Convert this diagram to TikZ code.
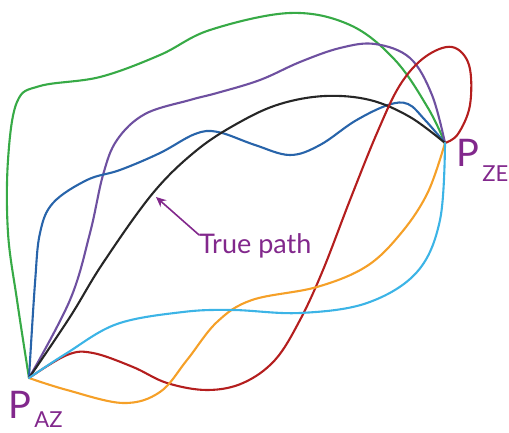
\documentclass[tikz,border=0pt]{standalone}
\usepackage{fontspec}
\setmainfont{Lato}
\usetikzlibrary{arrows.meta}
\definecolor{cgreen}{RGB}{55,170,70}
\definecolor{cviolet}{RGB}{110,80,160}
\definecolor{cblue}{RGB}{40,100,170}
\definecolor{cred}{RGB}{180,30,30}
\definecolor{corange}{RGB}{245,160,40}
\definecolor{ccyan}{RGB}{60,180,230}
\definecolor{clabel}{RGB}{130,40,140}
\begin{document}
\begin{tikzpicture}[x=1pt, y=-1pt, line join=round, line cap=round, >=stealth,
	path/.style={line width=2.1pt, smooth, tension=0.6}]
	\useasboundingbox (0,0) rectangle (509,433);
	\coordinate (az) at (29,378);
	\coordinate (ze) at (445,143);
	% the paths
	\draw[path, cgreen] plot coordinates {(az) (17,300) (8,233) (8,160) (17,102) (40,86) (100,77) (160,55) (210,30) (290,13) (350,25) (395,60) (428,108) (ze)};
	\draw[path, cviolet] plot coordinates {(az) (70,300) (90,233) (103,175) (117,140) (145,114) (190,100) (217,93) (260,80) (300,62) (340,48) (375,44) (410,58) (432,95) (ze)};
	\draw[path, cblue] plot coordinates {(az) (35,283) (40,233) (53,203) (87,180) (120,170) (160,153) (195,134) (218,132) (255,145) (290,155) (320,145) (355,121) (388,105) (408,104) (425,120) (ze)};
	\draw[path, black!85] plot coordinates {(az) (70,317) (103,263) (153,193) (197,150) (240,122) (280,104) (325,96) (370,100) (410,117) (ze)};
	\draw[path, cred] plot coordinates {(az) (67,355) (93,353) (133,367) (167,383) (207,390) (243,383) (275,360) (300,320) (323,270) (350,200) (377,133) (400,85) (425,57) (452,47) (469,65) (470,105) (458,134) (ze)};
	\draw[path, corange] plot coordinates {(az) (67,390) (123,403) (160,392) (187,360) (217,322) (252,300) (317,287) (367,266) (402,232) (428,192) (ze)};
	\draw[path, ccyan] plot coordinates {(az) (67,353) (117,324) (183,312) (233,310) (300,313) (367,303) (417,272) (440,220) (ze)};
	% labels
	\node[clabel, font=\fontsize{38}{40}\selectfont, inner sep=0pt, anchor=base west] (paz) at (8,418) {P};
	\node[clabel, font=\fontsize{22}{24}\selectfont, inner sep=0pt, anchor=base west] (pazsub) at ([xshift=3pt, yshift=-9]paz.base east) {AZ};
	\node[clabel, font=\fontsize{38}{40}\selectfont, inner sep=0pt, anchor=base west] (pze) at (456,167) {P};
	\node[clabel, font=\fontsize{22}{24}\selectfont, inner sep=0pt, anchor=base west] (pzesub) at ([xshift=3pt, yshift=-15]pze.base east) {ZE};
	\node[clabel, font=\fontsize{27}{30}\selectfont, inner sep=0pt, anchor=base west] (true) at (199,253) {True path};
	\coordinate (tip) at (156,197);
	\draw[clabel, line width=1.6pt, -{Stealth[length=10pt,width=9pt]}] ([yshift=-2pt]true.north west) -- (tip);
\end{tikzpicture}
\end{document}
